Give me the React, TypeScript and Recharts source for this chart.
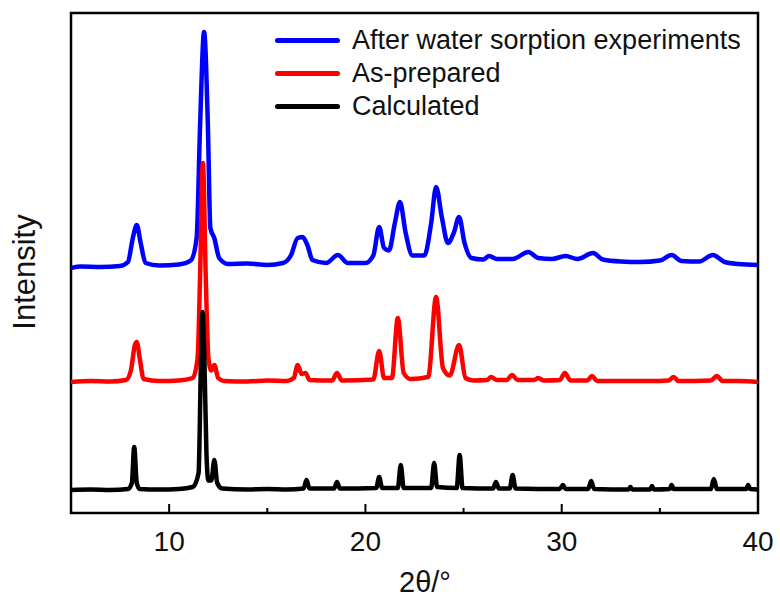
import React from "react";
import { LineChart, Line, XAxis, YAxis, ReferenceArea, Legend } from "recharts";

// 2θ (deg), intensity (stacked offset already included, arbitrary units)
const calculated: [number, number][] = [
  [5, 4.6], [6, 4.7], [7, 4.6], [7.9, 4.8], [8.1, 6], [8.22, 13.2], [8.35, 6], [8.5, 4.8],
  [9.5, 4.7], [10.5, 4.8], [11.2, 5.2], [11.5, 8], [11.62, 30], [11.7, 40.2], [11.8, 30],
  [11.9, 12], [12.0, 6.5], [12.15, 6.5], [12.3, 10.6], [12.45, 6], [12.7, 4.9], [14, 4.7],
  [15, 4.8], [16, 4.7], [16.85, 4.9], [17.0, 6.6], [17.15, 4.9], [18.4, 4.9], [18.55, 6.2],
  [18.7, 4.9], [20.55, 5], [20.7, 7.2], [20.85, 5], [21.65, 5], [21.8, 9.6], [21.95, 5],
  [23.35, 5], [23.5, 10], [23.65, 5.2], [24.65, 5], [24.8, 11.6], [24.95, 5], [26.5, 4.9],
  [26.65, 6.2], [26.8, 4.9], [27.35, 4.9], [27.5, 7.6], [27.65, 4.9], [29.9, 4.8], [30.06, 5.6],
  [30.2, 4.8], [31.35, 4.8], [31.5, 6.4], [31.65, 4.8], [33.4, 4.7], [33.5, 5.2], [33.6, 4.7],
  [34.5, 4.7], [34.6, 5.4], [34.7, 4.7], [35.5, 4.8], [35.6, 5.6], [35.7, 4.8], [37.6, 4.8],
  [37.75, 6.8], [37.9, 4.8], [39.4, 4.8], [39.5, 5.6], [39.6, 4.8], [40, 4.7],
];

const asPrepared: [number, number][] = [
  [5, 26.2], [6, 26.4], [7, 26.3], [7.8, 26.6], [8.05, 28.5], [8.25, 33.5], [8.35, 34.2],
  [8.5, 31], [8.7, 26.8], [9.5, 26.4], [10.5, 26.5], [11.2, 27], [11.45, 31], [11.58, 48],
  [11.72, 70], [11.86, 48], [12.0, 31], [12.15, 28.5], [12.3, 29.6], [12.5, 27], [12.8, 26.4],
  [14, 26.3], [15, 26.5], [16, 26.4], [16.35, 27], [16.55, 29.6], [16.75, 27.8], [16.95, 28],
  [17.15, 26.6], [18.3, 26.5], [18.55, 28], [18.8, 26.5], [20.4, 26.7], [20.7, 32.4],
  [20.95, 27], [21.35, 27], [21.65, 39], [21.95, 28], [22.3, 26.8], [23.2, 27.2], [23.6, 43.2],
  [23.95, 29], [24.3, 27.5], [24.77, 33.6], [25.1, 27], [25.5, 26.5], [26.2, 26.6], [26.4, 27.2],
  [26.7, 26.6], [27.2, 26.6], [27.47, 27.6], [27.75, 26.6], [28.6, 26.6], [28.8, 27], [29.1, 26.5],
  [29.9, 26.6], [30.16, 28], [30.45, 26.5], [31.3, 26.5], [31.55, 27.4], [31.8, 26.4], [33, 26.4],
  [34.5, 26.4], [35.45, 26.5], [35.7, 27.2], [35.95, 26.4], [37.6, 26.5], [37.9, 27.4],
  [38.2, 26.4], [39, 26.4], [40, 26.2],
];

const afterSorption: [number, number][] = [
  [5, 49], [5.5, 49.3], [6.5, 49.2], [7.5, 49.4], [7.9, 50.2], [8.15, 55], [8.35, 57.6],
  [8.55, 54], [8.8, 50], [9.5, 49.5], [10.5, 49.7], [11.1, 50.5], [11.4, 55], [11.58, 78],
  [11.78, 96.2], [11.97, 78], [12.1, 57], [12.3, 55], [12.55, 51], [13, 49.8], [14, 49.9],
  [15, 49.6], [15.8, 50], [16.2, 51.5], [16.55, 55], [16.8, 55.2], [17.05, 53.5], [17.3, 50.6],
  [18, 50], [18.6, 51.6], [19.1, 50], [20, 50], [20.4, 51.5], [20.7, 57.2], [20.95, 53],
  [21.2, 52.5], [21.5, 58], [21.76, 62.2], [22.05, 56], [22.4, 51.5], [23, 51.5], [23.35, 58],
  [23.6, 65.2], [23.9, 59], [24.2, 54], [24.5, 56], [24.77, 59.2], [25.05, 54], [25.4, 51],
  [26, 50.7], [26.3, 51.4], [26.7, 50.8], [27.5, 50.8], [28.3, 52.2], [28.8, 51], [29.5, 50.8],
  [30.2, 51.4], [30.8, 50.8], [31.6, 52], [32.1, 50.7], [33, 50.3], [34, 50.2], [35, 50.5],
  [35.6, 51.6], [36.1, 50.4], [37, 50.3], [37.7, 51.6], [38.3, 50.2], [39, 49.8], [40, 49.6],
];

const xTicks = [5, 10, 15, 20, 25, 30, 35, 40];
const xLabels = [10, 20, 30, 40];

const series = [
  { name: "After water sorption experiments", data: afterSorption, color: "#0000ff" },
  { name: "As-prepared", data: asPrepared, color: "#ff0000" },
  { name: "Calculated", data: calculated, color: "#000000" },
];

const toPoints = (arr: [number, number][]) => arr.map(([x, y]) => ({ x, y }));

const font = "'Liberation Sans', Arial, sans-serif";

const XTick = (props: any) => {
  const { x, y, payload } = props;
  const v = payload.value;
  const major = v % 10 === 0;
  return (
    <g>
      {v > 5 && v < 40 && (
        <line x1={x} x2={x} y1={y} y2={y - (major ? 9 : 5)} stroke="#000" strokeWidth={2} />
      )}
      {xLabels.includes(v) && (
        <text x={x} y={y + 38} textAnchor="middle" fontSize={28} fontFamily={font} fill="#111">
          {v}
        </text>
      )}
    </g>
  );
};

const renderLegend = () => (
  <div style={{ fontFamily: font, fontSize: 27, color: "#111" }}>
    {series.map((s) => (
      <div key={s.name} style={{ display: "flex", alignItems: "center", height: 33 }}>
        <div style={{ width: 65, height: 5, borderRadius: 3, background: s.color, marginRight: 12 }} />
        <span>{s.name}</span>
      </div>
    ))}
  </div>
);

export default function App() {
  return (
    <div style={{ position: "absolute", left: 0, top: 0, width: 780, height: 596, background: "#fff" }}>
      <LineChart width={780} height={596} margin={{ top: 13, left: 71, right: 22, bottom: 23 }}>
        <XAxis
          type="number"
          dataKey="x"
          domain={[5, 40]}
          ticks={xTicks}
          allowDataOverflow
          axisLine={false}
          tickLine={false}
          tickSize={0}
          tickMargin={0}
          height={60}
          interval={0}
          tick={<XTick />}
        />
        <YAxis hide domain={[0, 100]} allowDataOverflow />
        {series.map((s) => (
          <Line
            key={s.name}
            name={s.name}
            data={toPoints(s.data)}
            dataKey="y"
            type="monotone"
            stroke={s.color}
            strokeWidth={4.5}
            dot={false}
            isAnimationActive={false}
          />
        ))}
        <ReferenceArea x1={5} x2={40} y1={0} y2={100} fill="none" stroke="#000" strokeWidth={2.5} />
        <Legend
          layout="vertical"
          verticalAlign="middle"
          align="center"
          content={renderLegend}
          wrapperStyle={{ position: "absolute", left: 275, top: 24, width: 480 }}
        />
      </LineChart>
      <div
        style={{
          position: "absolute",
          left: 25,
          top: 272,
          transform: "translate(-50%, -50%) rotate(-90deg)",
          fontFamily: font,
          fontSize: 31,
          color: "#111",
          whiteSpace: "nowrap",
        }}
      >
        Intensity
      </div>
      <div
        style={{
          position: "absolute",
          left: 425,
          top: 582,
          transform: "translate(-50%, -50%)",
          fontFamily: font,
          fontSize: 29,
          color: "#111",
          whiteSpace: "nowrap",
        }}
      >
        2θ/°
      </div>
    </div>
  );
}
